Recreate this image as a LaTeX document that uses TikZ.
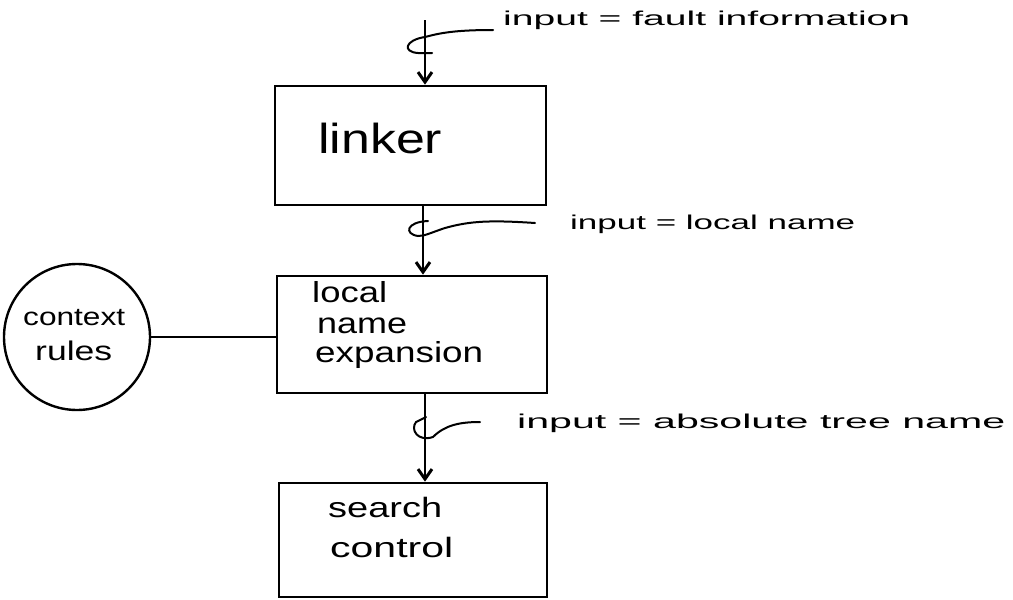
\documentclass[tikz,border=0pt]{standalone}
\usepackage{fontspec}
\setmainfont{Liberation Sans}
\usetikzlibrary{arrows.meta}
\newcommand{\fitw}[3]{\resizebox{#1pt}{\height}{\fontsize{#2}{#2}\selectfont #3}}
\begin{document}
\begin{tikzpicture}[x=1pt,y=-1pt,
  box/.style={draw, line width=2.6pt, inner sep=0pt},
  ring/.style={draw, circle, line width=2.4pt, inner sep=0pt, minimum size=146pt},
  arr/.style={line width=2.6pt, -{Straight Barb[length=10pt,width=14pt,line width=3pt]}},
  hook/.style={line width=2pt, line cap=round},
  txt/.style={inner sep=0pt, anchor=base west}]
\useasboundingbox (0,0) rectangle (1013,600);
% boxes
\node[box, minimum width=271pt, minimum height=119pt] (linker) at (410.5,145.5) {};
\node[box, minimum width=270pt, minimum height=117pt] (lne) at (412,334.5) {};
\node[box, minimum width=268pt, minimum height=114pt] (search) at (413,540) {};
\node[ring] (ctx) at (77,337) {};
% box texts
\node[txt] (tlinker) at (318,153) {\fitw{124}{42}{linker}};
\node[txt] (tlocal) at (312,302) {\fitw{75}{29}{local}};
\node[txt] (tname) at (317,333) {\fitw{90}{29}{name}};
\node[txt] (texp) at (315,362) {\fitw{168}{29}{expansion}};
\node[txt] (tsearch) at (328,517) {\fitw{114}{28}{search}};
\node[txt] (tcontrol) at (330,557) {\fitw{123}{28}{control}};
\node[txt] (tcontext) at (23,325) {\fitw{102}{25}{context}};
\node[txt] (trules) at (35,360) {\fitw{77}{27}{rules}};
% labels
\node[txt] (l1) at (503,25) {\fitw{407}{20}{input = fault information}};
\node[txt] (l2) at (570,229) {\fitw{285}{20}{input = local name}};
\node[txt] (l3) at (517,428) {\fitw{488}{20}{input = absolute tree name}};
% arrows
\coordinate (a1) at (425,20);
\coordinate (a2) at (423,205);
\coordinate (a3) at (425,393);
\draw[arr] (a1) -- (a1 |- linker.north);
\draw[arr] (a2) -- (a2 |- lne.north);
\draw[arr] (a3) -- (a3 |- search.north);
% circle link
\draw[line width=2.2pt] (ctx.east) -- (ctx.east -| lne.west);
% hooks
\draw[hook] (493,30) .. controls (455,30) and (440,33) .. (425,37)
  .. controls (405,40) and (402,52) .. (418,53) -- (432,53);
\draw[hook] (535,223) .. controls (490,220) and (470,221) .. (445,228)
  .. controls (430,233) and (425,236) .. (418,236)
  .. controls (404,234) and (406,222) .. (428,221);
\draw[hook] (480,422) .. controls (460,422) and (445,425) .. (433,437)
  .. controls (418,442) and (410,430) .. (416,422) -- (426,417);
\end{tikzpicture}
\end{document}
